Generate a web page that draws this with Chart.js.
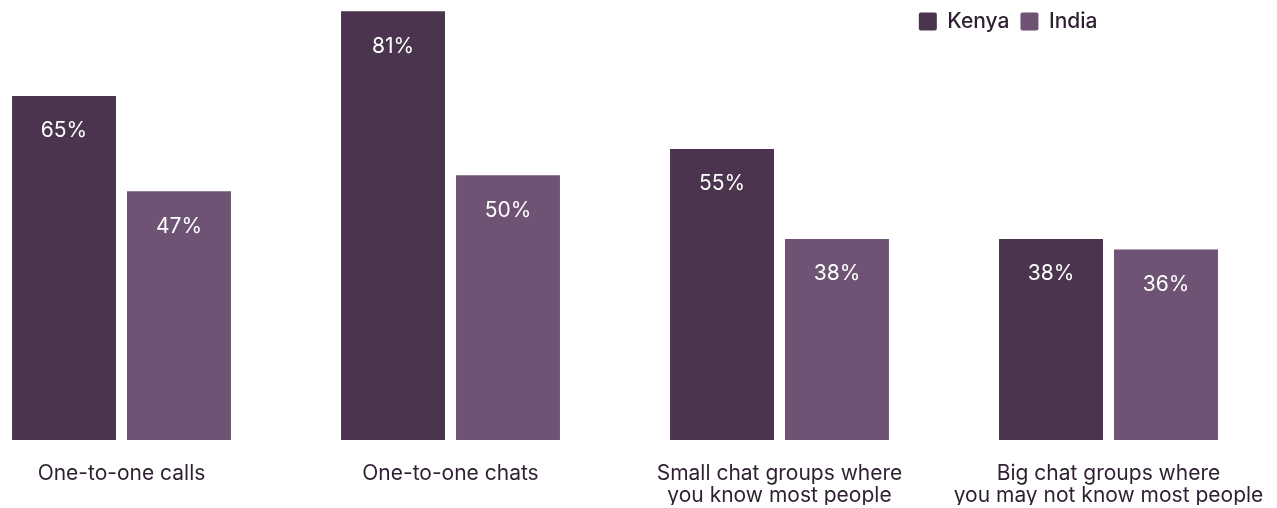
<!DOCTYPE html>
<html>
<head>
<meta charset="utf-8">
<script src="https://cdn.jsdelivr.net/npm/chart.js@4/dist/chart.umd.min.js"></script>
<style>
  html, body { margin: 0; padding: 0; background: #fff; }
  #wrap { width: 1277px; height: 508px; position: relative; }
</style>
</head>
<body>
<div id="wrap"><canvas id="chart"></canvas></div>
<script>
// messaging formats (two-line labels are split into arrays)
const categories = [
    'One-to-one calls',
    'One-to-one chats',
    ['Small chat groups where', 'you know most people'],
    ['Big chat groups where', 'you may not know most people']
];

// share of respondents, %
const kenyaValues = [65, 81, 55, 38];
const indiaValues = [47, 50, 38, 36];

const KENYA_COLOR = '#4b344d';
const INDIA_COLOR = '#6f5374';
const TEXT_COLOR = '#2e1f31';
const FONT_FAMILY = 'Inter, "Noto Sans", sans-serif';

// draws the value inside the top of each bar
const barLabels = {
    id: 'barLabels',
    afterDatasetsDraw(chart) {
        const ctx = chart.ctx;
        ctx.save();
        ctx.font = '400 21px ' + FONT_FAMILY;
        ctx.fillStyle = '#ffffff';
        ctx.textAlign = 'center';
        ctx.textBaseline = 'middle';
        chart.data.datasets.forEach((ds, i) => {
            chart.getDatasetMeta(i).data.forEach((bar, j) => {
                ctx.fillText(ds.data[j] + '%', bar.x, bar.y + 35);
            });
        });
        ctx.restore();
    }
};

const ctx = document.getElementById('chart').getContext('2d');

new Chart(ctx, {
    type: 'bar',
    data: {
        labels: categories,
        datasets: [
            { label: 'Kenya', data: kenyaValues, backgroundColor: KENYA_COLOR },
            { label: 'India', data: indiaValues, backgroundColor: INDIA_COLOR }
        ]
    },
    options: {
        responsive: true,
        maintainAspectRatio: false,
        animation: false,
        devicePixelRatio: 1,
        categoryPercentage: 0.699,
        barPercentage: 0.904,
        clip: false,
        layout: {
            padding: { left: 121.5, right: 168.5, top: 0, bottom: 3 }
        },
        scales: {
            x: {
                offset: false,
                grid: { display: false, drawTicks: false },
                border: { display: false },
                ticks: {
                    padding: 23,
                    maxRotation: 0,
                    autoSkip: false,
                    color: TEXT_COLOR,
                    font: { family: FONT_FAMILY, size: 21, weight: 400, lineHeight: 1.048 }
                },
                // labels may hang past the plot edges; keep the axis band tight
                afterFit(scale) {
                    scale.paddingLeft = 0;
                    scale.paddingRight = 0;
                    scale.height = 65;
                }
            },
            y: {
                display: false,
                min: 0,
                max: 75.2
            }
        },
        plugins: {
            legend: {
                position: 'top',
                align: 'end',
                labels: {
                    boxWidth: 18,
                    boxHeight: 18,
                    padding: 11,
                    useBorderRadius: true,
                    borderRadius: 2,
                    color: TEXT_COLOR,
                    font: { family: FONT_FAMILY, size: 21, weight: 500 }
                }
            },
            tooltip: { enabled: false }
        }
    },
    plugins: [barLabels]
});
</script>
</body>
</html>
